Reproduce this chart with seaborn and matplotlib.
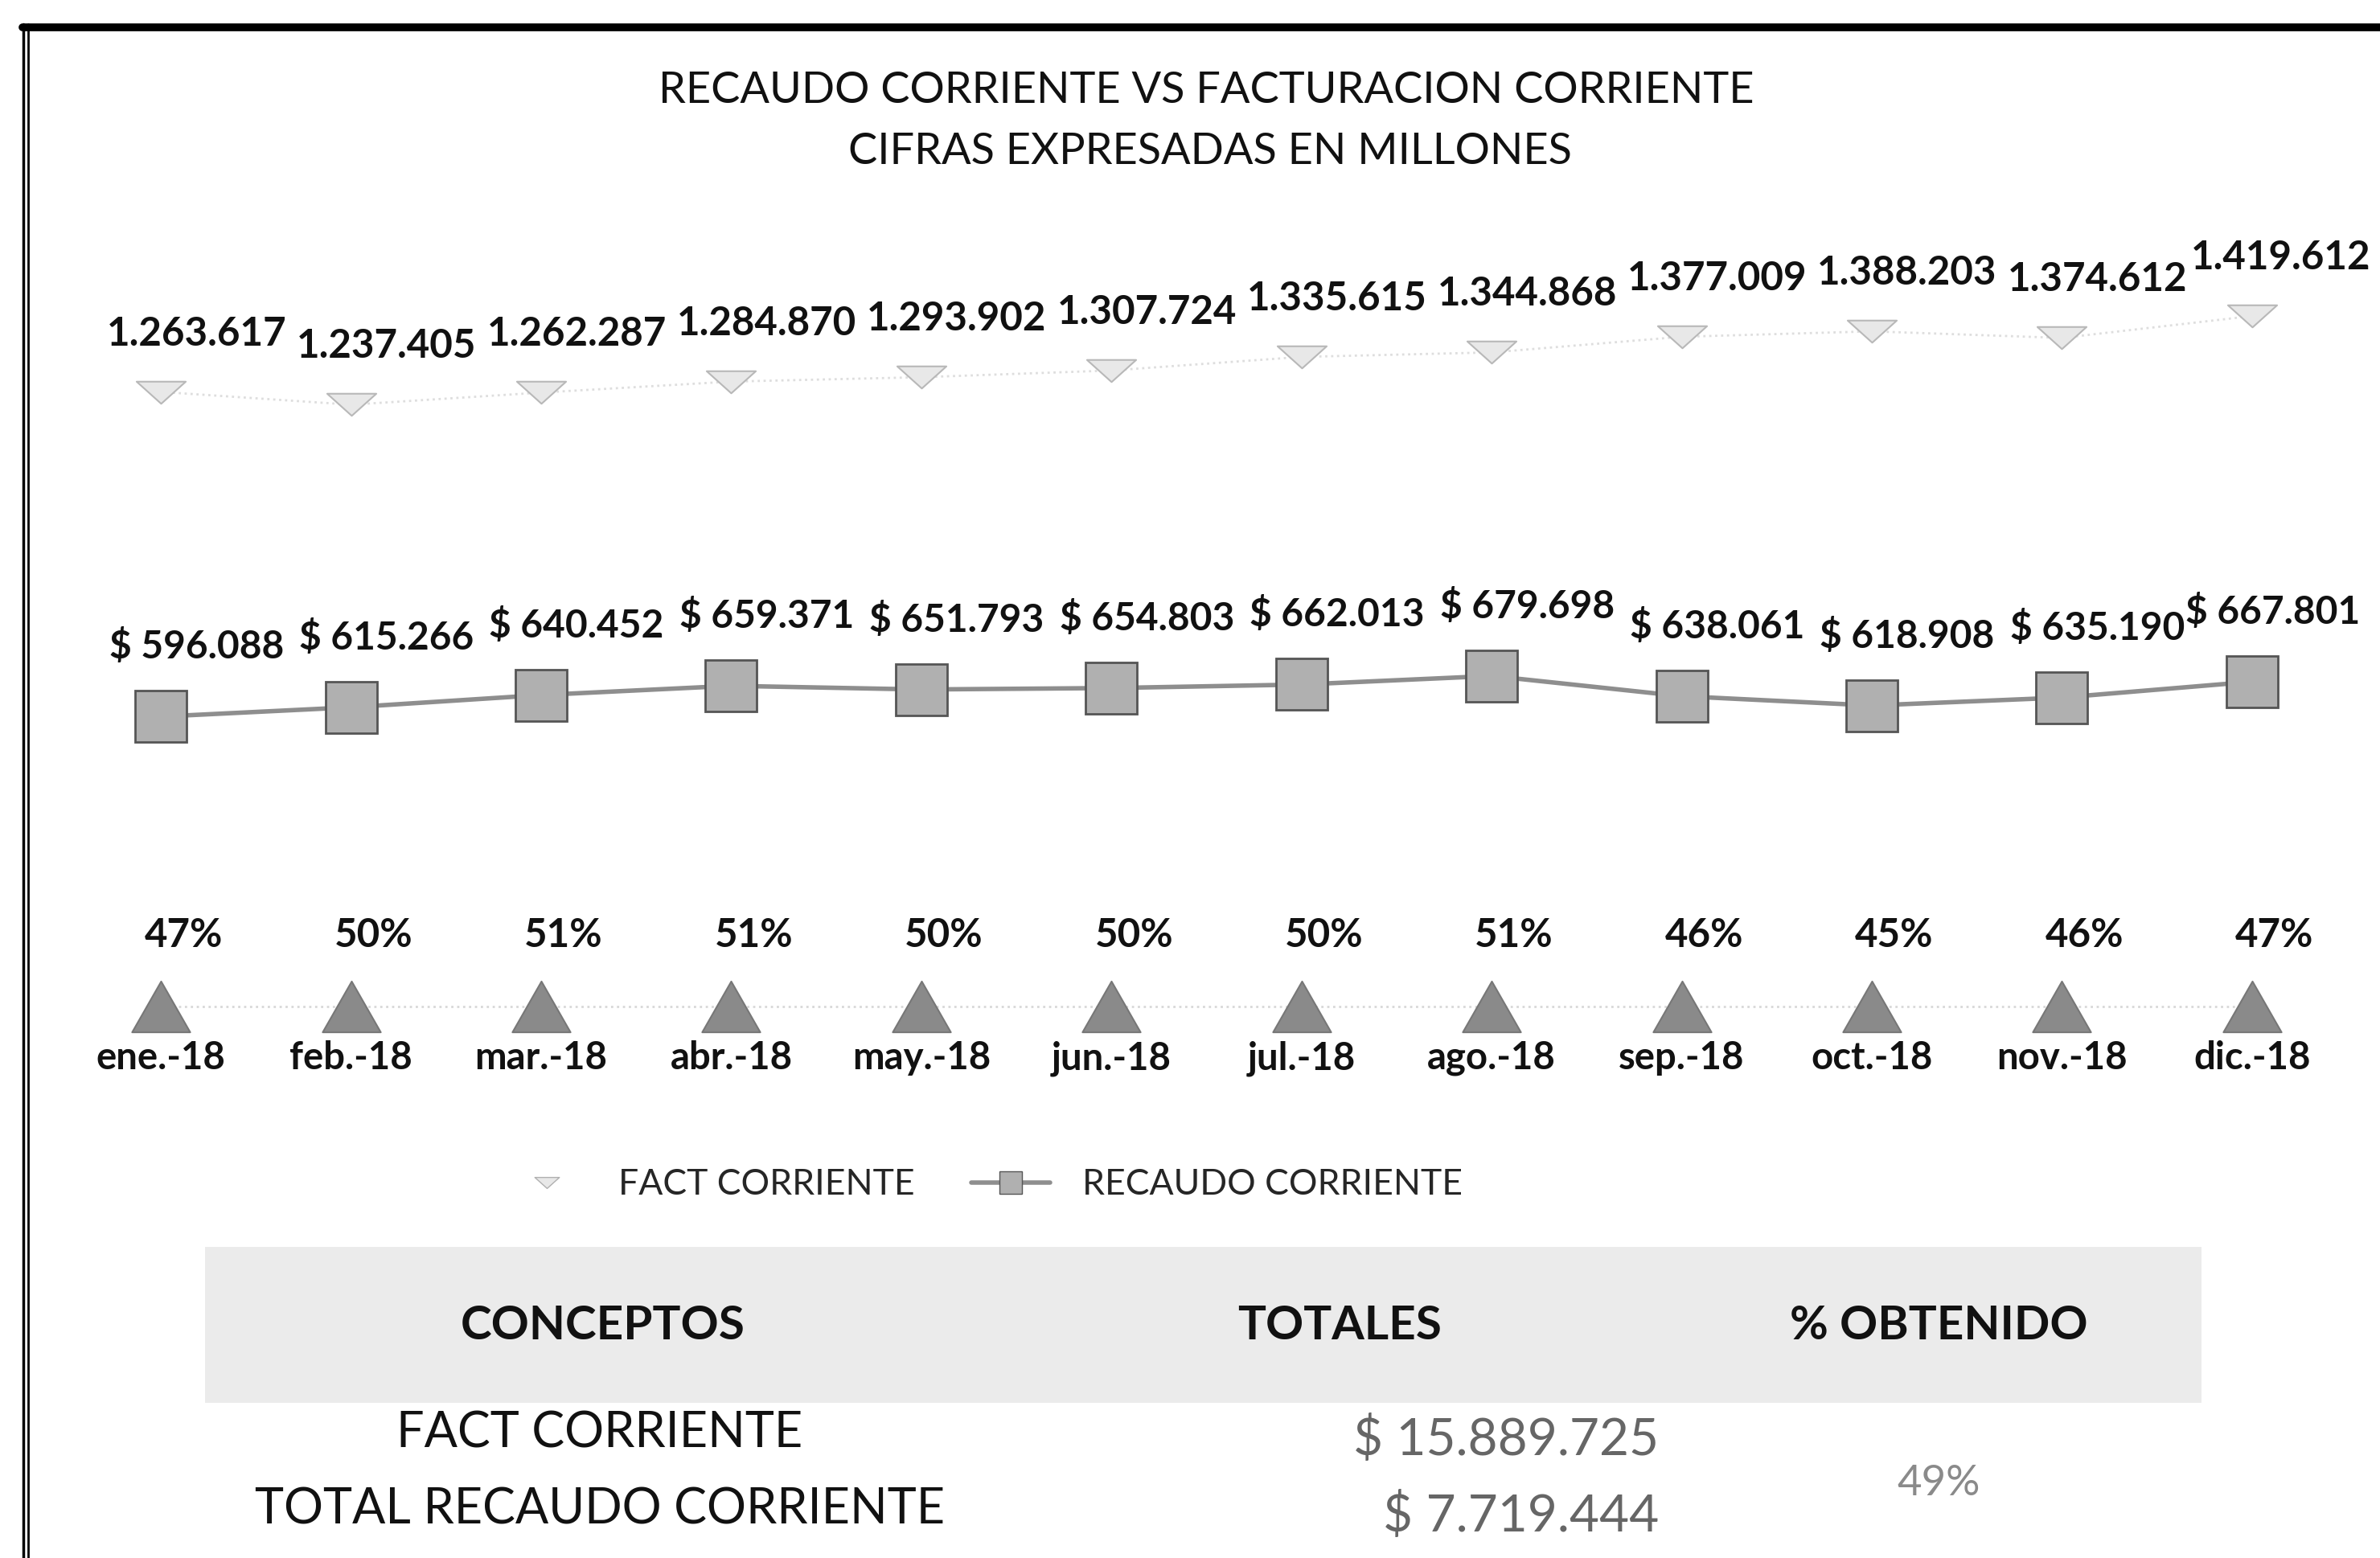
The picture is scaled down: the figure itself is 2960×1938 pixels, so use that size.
import numpy as np
import pandas as pd
import matplotlib.pyplot as plt
import seaborn as sns
from matplotlib.lines import Line2D
from matplotlib.path import Path
from matplotlib.patches import Rectangle

sns.set_theme(style="white")
plt.rcParams['font.family'] = ['Lato', 'DejaVu Sans']

# Data (cifras en millones, formato es-CO)
meses = ['ene.-18', 'feb.-18', 'mar.-18', 'abr.-18', 'may.-18', 'jun.-18',
         'jul.-18', 'ago.-18', 'sep.-18', 'oct.-18', 'nov.-18', 'dic.-18']
fact_corriente = [1263617, 1237405, 1262287, 1284870, 1293902, 1307724,
                  1335615, 1344868, 1377009, 1388203, 1374612, 1419612]
recaudo_corriente = [596088, 615266, 640452, 659371, 651793, 654803,
                     662013, 679698, 638061, 618908, 635190, 667801]
pct_obtenido = [47, 50, 51, 51, 50, 50, 50, 51, 46, 45, 46, 47]

conceptos = ['FACT CORRIENTE', 'TOTAL RECAUDO CORRIENTE']
totales = [15889725, 7719444]
pct_total = 49

W, H = 2960, 1938


def fx(px):
    return px / W


def fy(py):
    return 1 - py / H


def miles(v):
    return f"{v:,}".replace(",", ".")


df = pd.DataFrame({
    'x': np.arange(len(meses)),
    'mes': meses,
    'fact': fact_corriente,
    'recaudo': recaudo_corriente,
    'pct': np.array(pct_obtenido) / 100,
})

fig = plt.figure(figsize=(W / 100, H / 100), dpi=100)
fig.patch.set_facecolor('white')

# axes placed so that months and values sit where the scanned chart has them
ax_top, ax_bot = 280, 1290
ax = fig.add_axes([fx(82), fy(ax_bot), fx(2919 - 82), (ax_bot - ax_top) / H])
zero_px, px_per_m = 1252, 605
ax.set_ylim((zero_px - ax_bot) / px_per_m * 1e6, (zero_px - ax_top) / px_per_m * 1e6)
ax.set_xlim(-0.5, len(meses) - 0.5)

tri_down = Path([(-1, 0.45), (1, 0.45), (0, -0.45), (-1, 0.45)],
                [Path.MOVETO, Path.LINETO, Path.LINETO, Path.CLOSEPOLY])
tri_up = Path([(0, 0.875), (-1, -0.875), (1, -0.875), (0, 0.875)],
              [Path.MOVETO, Path.LINETO, Path.LINETO, Path.CLOSEPOLY])

# FACT CORRIENTE
sns.lineplot(data=df, x='x', y='fact', ax=ax, color='#dedede', lw=2, ls=':',
             marker=tri_down, markersize=44, markerfacecolor='#e8e8e8',
             markeredgecolor='#b8b8b8', markeredgewidth=1.5)
# RECAUDO CORRIENTE
sns.lineplot(data=df, x='x', y='recaudo', ax=ax, color='#8e8e8e', lw=4,
             marker='s', markersize=46, markerfacecolor='#b0b0b0',
             markeredgecolor='#555555', markeredgewidth=2)
# % obtenido
sns.lineplot(data=df, x='x', y='pct', ax=ax, color='#d8d8d8', lw=2, ls=':',
             marker=tri_up, markersize=52, markerfacecolor='#8a8a8a',
             markeredgecolor='#777777', markeredgewidth=1.5)

lbl = dict(textcoords='offset pixels', ha='center', va='bottom',
           fontweight='bold', color='#111111')
last = len(meses) - 1
for i, row in df.iterrows():
    ax.annotate(miles(row['fact']), (row['x'], row['fact']),
                xytext=(44 if i < last else 36, 50), fontsize=35.5, **lbl)
    ax.annotate('$ ' + miles(row['recaudo']), (row['x'], row['recaudo']),
                xytext=(44 if i < last else 26, 64), fontsize=34.5, **lbl)
    ax.annotate(f"{pct_obtenido[i]}%", (row['x'], row['pct']), xytext=(28, 66),
                fontsize=35.5, **lbl)

ax.set_xticks(df['x'], meses)
ax.set_yticks([])
ax.tick_params(axis='x', length=0, pad=3, labelsize=34)
for t in ax.get_xticklabels():
    t.set_fontweight('bold')
    t.set_color('#111111')
ax.set_xlabel('')
ax.set_ylabel('')
sns.despine(ax=ax, left=True, bottom=True)
ax.set_facecolor('none')

# titles
fig.text(fx(1500), fy(112), 'RECAUDO CORRIENTE VS FACTURACION CORRIENTE',
         ha='center', va='center', fontsize=39, color='#111111')
fig.text(fx(1505), fy(188), 'CIFRAS EXPRESADAS EN MILLONES',
         ha='center', va='center', fontsize=39, color='#111111')

# legend
handles = [
    Line2D([], [], ls='none', marker=tri_down, markersize=22,
           markerfacecolor='#e8e8e8', markeredgecolor='#b0b0b0'),
    Line2D([], [], color='#8e8e8e', lw=4, marker='s', markersize=20,
           markerfacecolor='#b0b0b0', markeredgecolor='#555555'),
]
fig.legend(handles, ['FACT CORRIENTE', 'RECAUDO CORRIENTE'], loc='center',
           bbox_to_anchor=(fx(1225), fy(1474)), ncol=2, frameon=False,
           fontsize=32, handlelength=2.2, handletextpad=0.9, columnspacing=1.6)

# summary table
fig.add_artist(Rectangle((fx(255), fy(1745)), fx(2738 - 255), (1745 - 1551) / H,
                         transform=fig.transFigure, facecolor='#ebebeb',
                         edgecolor='none', zorder=0))
for xc, head in zip([750, 1666, 2411], ['CONCEPTOS', 'TOTALES', '% OBTENIDO']):
    fig.text(fx(xc), fy(1650), head, ha='center', va='center', fontsize=42,
             fontweight='bold', color='#111111')
for yc, name, val in zip([1783, 1878], conceptos, totales):
    fig.text(fx(746), fy(yc), name, ha='center', va='center', fontsize=44,
             color='#111111')
    fig.text(fx(2063), fy(yc + 8), '$ ' + miles(val), ha='right', va='center',
             fontsize=46, color='#666666')
fig.text(fx(2411), fy(1845), f"{pct_total}%", ha='center', va='center',
         fontsize=38, color='#8a8a8a')

# scan frame
fig.add_artist(Line2D([fx(28), 1], [fy(34), fy(34)], transform=fig.transFigure,
                      color='black', lw=7))
fig.add_artist(Line2D([fx(29), fx(29)], [fy(30), 0], transform=fig.transFigure,
                      color='black', lw=2.5))
fig.add_artist(Line2D([fx(35), fx(35)], [fy(30), 0], transform=fig.transFigure,
                      color='black', lw=2))

fig.savefig('out.png', dpi=100, facecolor='white')
